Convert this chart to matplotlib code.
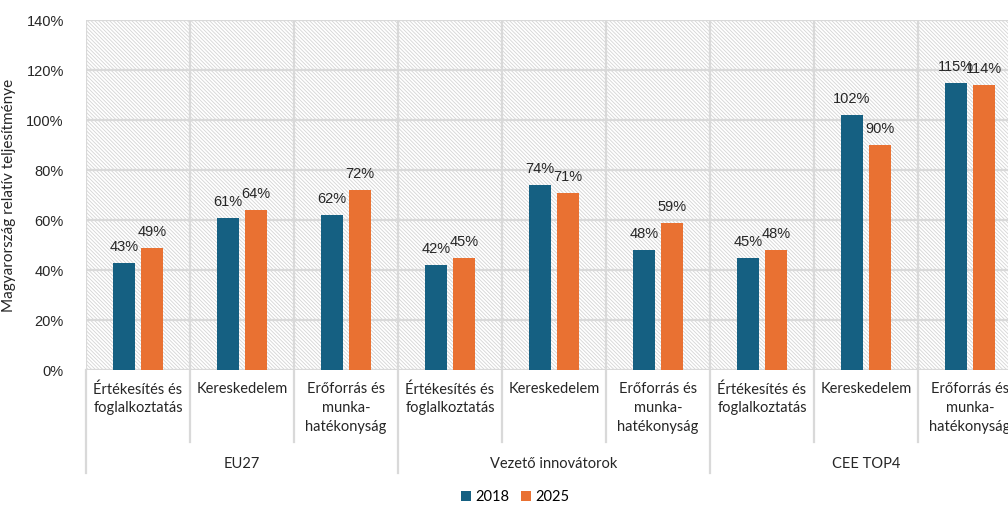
import matplotlib.pyplot as plt
import numpy as np
from matplotlib.patches import Rectangle
from matplotlib.ticker import FuncFormatter

# Data
groups = ['EU27', 'Vezető innovátorok', 'CEE TOP4']
categories = ['Értékesítés és\nfoglalkoztatás', 'Kereskedelem', 'Erőforrás és\nmunka-\nhatékonyság']
vals_2018 = [43, 61, 62, 42, 74, 48, 45, 102, 115]
vals_2025 = [49, 64, 72, 45, 71, 59, 48, 90, 114]
yticks = [0, 20, 40, 60, 80, 100, 120, 140]

colors = {'2018': '#156082', '2025': '#E97132', 'grid': '#d9d9d9'}
label_font = 'Lato'
num_font = 'Liberation Sans'

plt.rcParams['hatch.color'] = '#d4d4d4'
plt.rcParams['hatch.linewidth'] = 0.6

fig = plt.figure(figsize=(10.08, 5.07), dpi=100)
# plot area runs slightly past the right edge of the figure
ax = fig.add_axes([86 / 1008, (507 - 370) / 507, 936 / 1008, 350 / 507])

n = len(vals_2018)
x = np.arange(n)
width = 0.215
off = 0.135

# hatched background
ax.add_patch(Rectangle((0, 0), 1, 1, transform=ax.transAxes, facecolor='white',
                       edgecolor='#d4d4d4', hatch='\\' * 9, lw=0, zorder=0))

# grid
for t in yticks:
    ax.axhline(t, color=colors['grid'], lw=1.6, zorder=1)
for i in range(n + 1):
    ax.axvline(i - 0.5, color=colors['grid'], lw=1.6, zorder=1)

b1 = ax.bar(x - off, vals_2018, width, color=colors['2018'], zorder=3, label='2018')
b2 = ax.bar(x + off, vals_2025, width, color=colors['2025'], zorder=3, label='2025')

for bars, vals in [(b1, vals_2018), (b2, vals_2025)]:
    for bar, v in zip(bars, vals):
        ax.text(bar.get_x() + bar.get_width() / 2, v + 3.5, f'{v}%',
                ha='center', va='bottom', fontsize=10.5, family=num_font,
                color='#262626', zorder=4)

ax.set_xlim(-0.5, n - 0.5)
ax.set_ylim(0, 140)
ax.set_yticks(yticks)
ax.yaxis.set_major_formatter(FuncFormatter(lambda v, p: f'{v:.0f}%'))
ax.tick_params(axis='y', length=0, pad=16, labelsize=10.5, labelcolor='#262626')
for lab in ax.get_yticklabels():
    lab.set_family(num_font)
ax.set_xticks([])
for s in ax.spines.values():
    s.set_visible(False)

ax.set_ylabel('Magyarország relatív teljesítménye', fontsize=11, family=label_font,
              color='#262626')
ax.yaxis.set_label_coords(-70 / 936, 0.5)

# two-level category axis below the plot
tr = ax.get_xaxis_transform()
px = 1 / 350  # one pixel in axes fraction (vertical)
for i in range(n):
    ax.text(i, -12 * px, categories[i % 3], transform=tr, ha='center', va='top',
            fontsize=10.5, family=label_font, color='#262626', linespacing=1.45)
for i in range(n + 1):
    top = -103 * px if i % 3 == 0 else -72 * px
    ax.plot([i - 0.5, i - 0.5], [0, top], transform=tr, color=colors['grid'],
            lw=1.6, clip_on=False, zorder=1)
for g, name in enumerate(groups):
    ax.text(g * 3 + 1, -94 * px, name, transform=tr, ha='center', va='center',
            fontsize=10.5, family=label_font, color='#262626')

fig.legend(handles=[b1, b2], loc='center', bbox_to_anchor=(515 / 1008, 1 - 497 / 507),
           ncol=2, frameon=False, handlelength=0.7, handleheight=0.7,
           handletextpad=0.3, columnspacing=0.8, prop={'family': label_font, 'size': 10.5})

plt.savefig('out.png', dpi=100)
